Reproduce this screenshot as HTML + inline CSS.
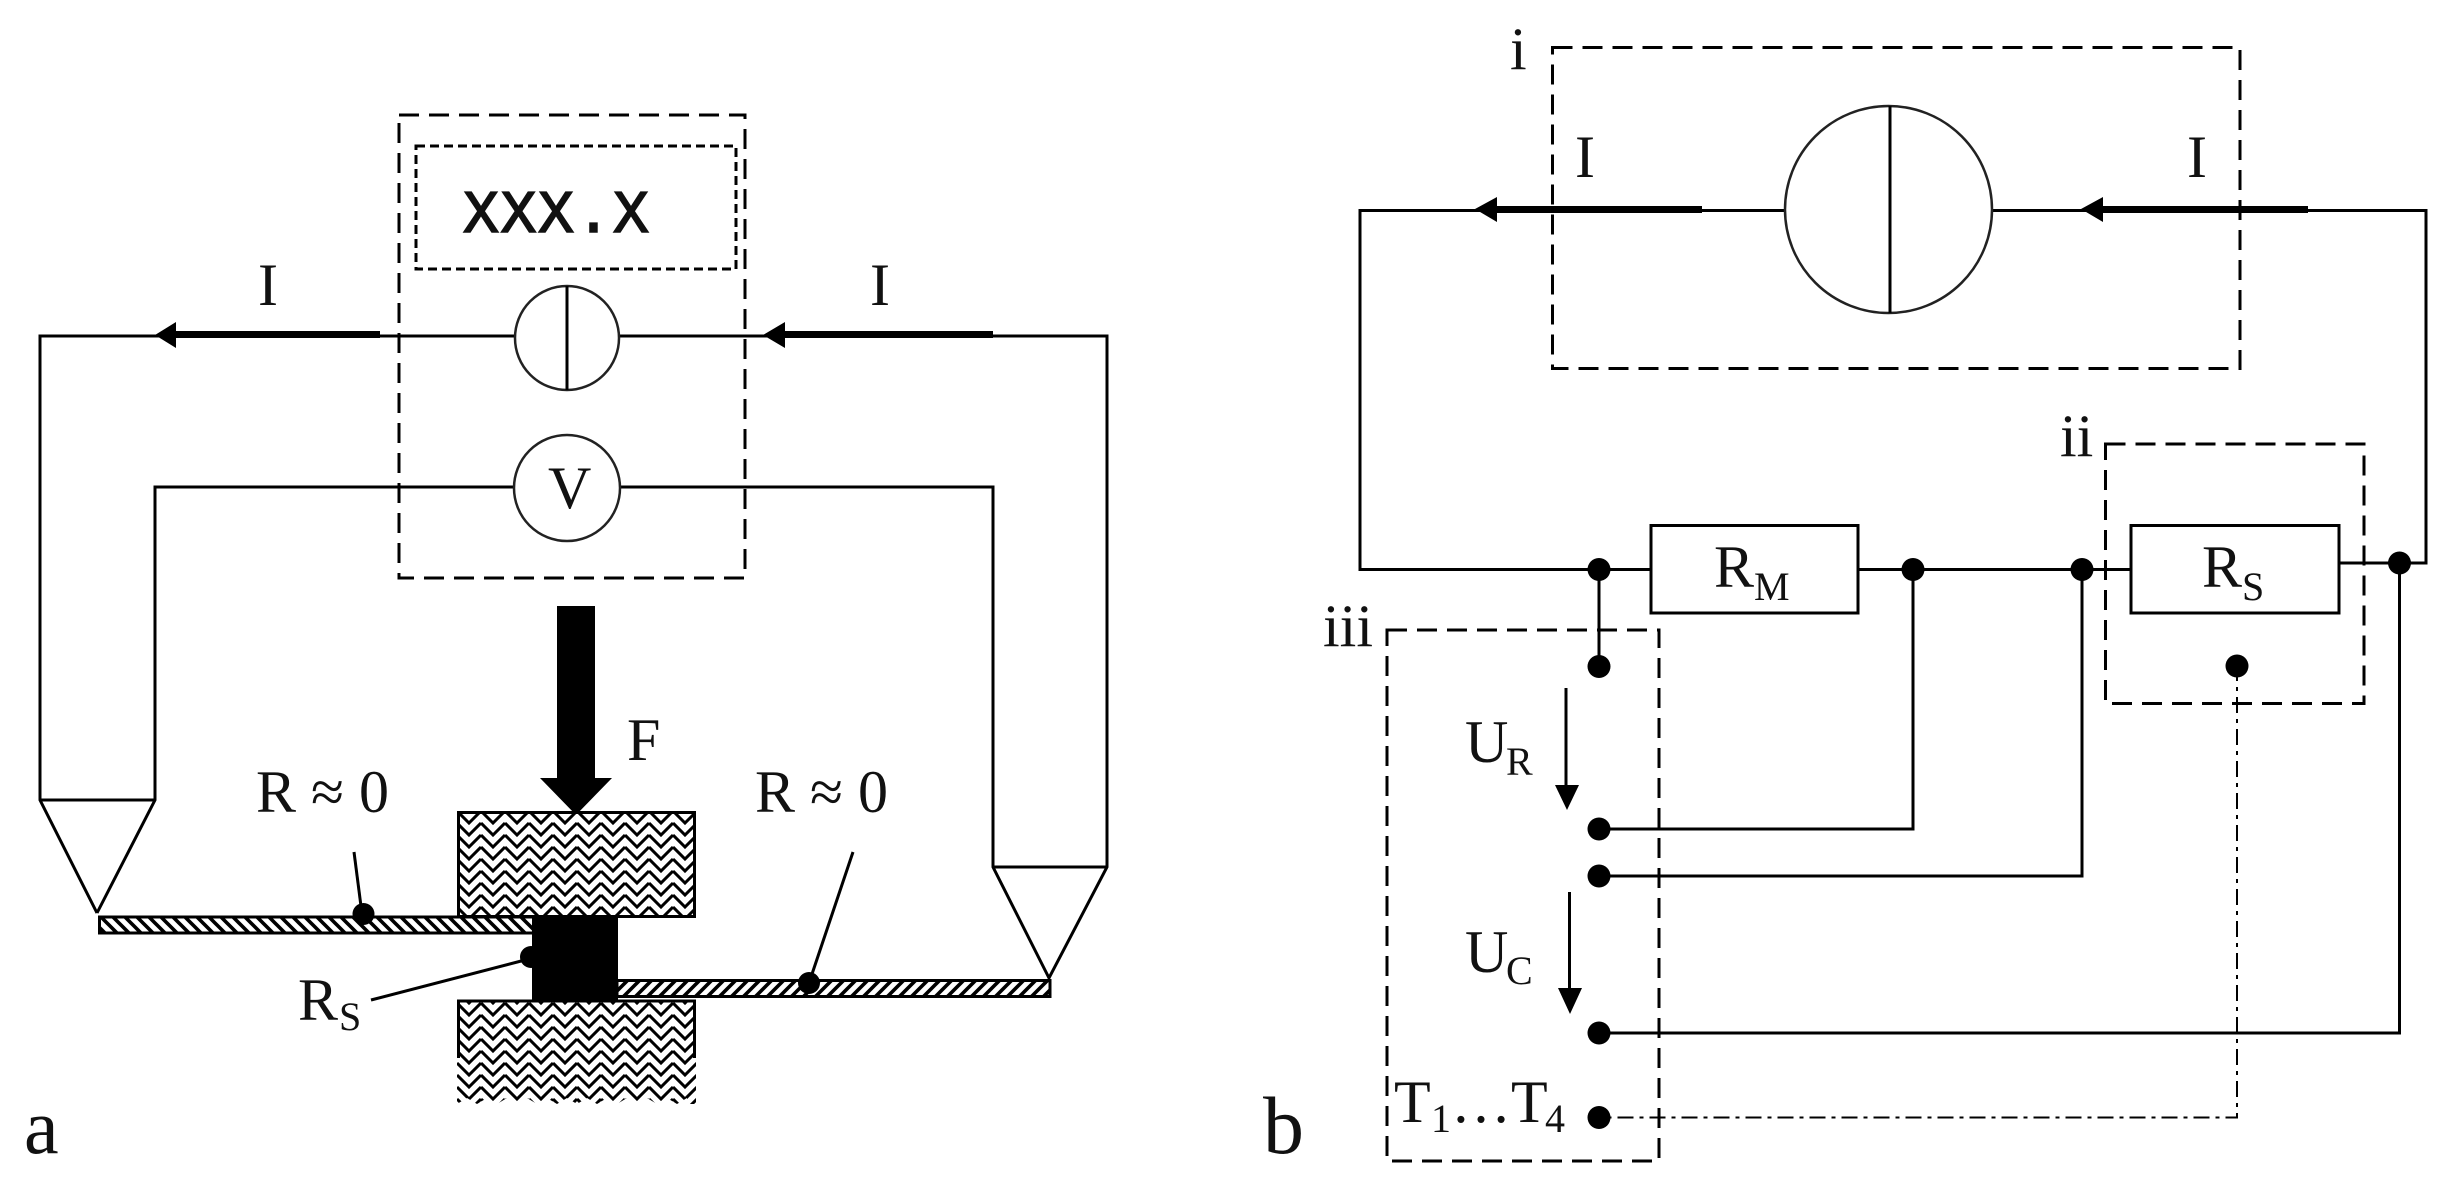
<!DOCTYPE html>
<html>
<head>
<meta charset="utf-8">
<style>
html,body{margin:0;padding:0;background:#fff;width:2454px;height:1189px;overflow:hidden}
svg{display:block}
text{font-family:"Liberation Serif",serif;fill:#111;font-size:60px}
.sub{font-size:40px}
.w{fill:none;stroke:#000;stroke-width:3}
.d{fill:none;stroke:#000;stroke-width:3;stroke-dasharray:20 10}
.dot{fill:#000}
</style>
</head>
<body>
<svg width="2454" height="1189" viewBox="0 0 2454 1189" xmlns="http://www.w3.org/2000/svg">
<defs>
<pattern id="hb" width="24" height="12" patternUnits="userSpaceOnUse" x="457" y="811">
<rect width="24" height="12" fill="#fff"/>
<path d="M0 0L12 12L24 0M0 12L12 24L24 12M0 -12L12 0L24 -12" fill="none" stroke="#000" stroke-width="3"/>
</pattern>
<pattern id="hl" width="12" height="12" patternUnits="userSpaceOnUse">
<rect width="12" height="12" fill="#fff"/>
<path d="M-3 -3L15 15M-3 9L3 15M9 -3L15 3" stroke="#000" stroke-width="3.6"/>
</pattern>
<pattern id="hr" width="12" height="12" patternUnits="userSpaceOnUse">
<rect width="12" height="12" fill="#fff"/>
<path d="M-3 15L15 -3M-3 3L3 -3M9 15L15 9" stroke="#000" stroke-width="3.6"/>
</pattern>
</defs>
<rect width="2454" height="1189" fill="#fff"/>

<!-- PANEL A -->
<rect class="d" x="399" y="115" width="346" height="463"/>
<rect x="416" y="146" width="320" height="123" fill="none" stroke="#000" stroke-width="3" stroke-dasharray="9 5"/>
<text x="463" y="232" style="font-family:'Liberation Mono',monospace;font-size:60px;letter-spacing:1.5px;stroke:#111;stroke-width:1.6px">XXX.X</text>

<path class="w" d="M97 913L40 800V336H515M619 336H1107V867L1049 978L993 867V487H620M515 487H155V800L97 913M40 800H155M993 867H1107"/>
<circle cx="567" cy="338" r="52" fill="#fff" stroke="#222" stroke-width="2.5"/>
<path class="w" stroke-width="2" d="M567 286V390"/>
<circle cx="567" cy="488" r="53" fill="#fff" stroke="#222" stroke-width="2.5"/>
<text x="548" y="508">V</text>

<path d="M155 335L176 322V331H380V338H176V348Z" fill="#000"/>
<path d="M763 335L785 322V331H993V338H785V348Z" fill="#000"/>
<text x="258" y="305">I</text>
<text x="870" y="305">I</text>

<!-- force -->
<path d="M557 606H595V778H612L576 815L540 778H557Z" fill="#000"/>
<text x="627" y="760">F</text>

<!-- blocks -->
<rect x="458.500" y="812.500" width="236" height="104" fill="url(#hb)" stroke="#000" stroke-width="3"/>
<rect x="457" y="1000" width="239" height="104" fill="url(#hb)"/>
<path d="M458.500 1058V1001H694.500V1058" fill="none" stroke="#000" stroke-width="3"/>
<path d="M457 1104l10-6 10 6 10-6 10 6 10-6 10 6 10-6 10 6 10-6 10 6 10-6 10 6 10-6 10 6 10-6 10 6 10-6 10 6 10-6 10 6 10-6 10 6 10-6V1112H457Z" fill="#fff"/>
<rect x="99.500" y="917" width="434" height="16" fill="url(#hl)" stroke="#000" stroke-width="3"/>
<rect x="617" y="980.500" width="433" height="16" fill="url(#hr)" stroke="#000" stroke-width="3"/>
<rect x="532" y="917" width="86" height="83" fill="#000"/>

<!-- dots & leaders -->
<circle class="dot" cx="363.500" cy="914" r="11"/>
<path class="w" stroke-width="2" d="M354 852L362 914"/>
<circle class="dot" cx="809" cy="983" r="11"/>
<path class="w" stroke-width="2" d="M853 852L809 983"/>
<circle class="dot" cx="531" cy="957" r="11"/>
<path class="w" d="M371 1000L525 960"/>

<text x="256" y="812">R ≈ 0</text>
<text x="755" y="812">R ≈ 0</text>
<text x="298" y="1020">R</text><text class="sub" x="339" y="1030">S</text>
<text x="24" y="1153" style="font-size:78px">a</text>

<!-- PANEL B -->
<rect class="d" x="1552.500" y="47.500" width="687.500" height="321"/>
<rect class="d" x="2105.500" y="444" width="258.500" height="259.500"/>
<rect class="d" x="1387" y="630" width="272" height="531"/>

<path class="w" d="M1785 210.500H1360V569.500H1651M1858 569.500H2131M2339 563H2426V210.500H1992"/>
<circle cx="1888.500" cy="209.500" r="103.500" fill="#fff" stroke="#222" stroke-width="2.500"/>
<path class="w" d="M1890 106V313"/>
<path d="M1475 209L1497 197V206H1702V213H1497V222Z" fill="#000"/>
<path d="M2081 209L2103 197V206H2308V213H2103V222Z" fill="#000"/>
<text x="1575" y="177">I</text>
<text x="2187" y="177">I</text>

<rect class="w" x="1651" y="525.500" width="207" height="87.500" fill="#fff"/>
<rect class="w" x="2131" y="525.500" width="208" height="87.500" fill="#fff"/>
<text x="1714" y="587">R</text><text class="sub" x="1754" y="600">M</text>
<text x="2202" y="587">R</text><text class="sub" x="2242" y="600">S</text>

<path class="w" d="M1599 569.500V666.500M1913 569.500V829H1599M2082 569.500V876H1599M2399.500 563V1033H1599"/>
<path fill="none" stroke="#000" stroke-width="2" stroke-dasharray="16 6 4 6" d="M2237 665V1117.500H1599"/>

<g class="dot">
<circle cx="1599" cy="569.500" r="11.500"/>
<circle cx="1913" cy="569.500" r="11.500"/>
<circle cx="2082" cy="569.500" r="11.500"/>
<circle cx="2399.500" cy="563" r="11.500"/>
<circle cx="1599" cy="666.500" r="11.500"/>
<circle cx="2237" cy="666" r="11.500"/>
<circle cx="1599" cy="829" r="11.500"/>
<circle cx="1599" cy="876" r="11.500"/>
<circle cx="1599" cy="1033" r="11.500"/>
<circle cx="1599" cy="1117.500" r="11.500"/>
</g>

<path class="w" stroke-width="2" d="M1566 688V790"/>
<path d="M1555 785H1579L1567 810Z" fill="#000"/>
<path class="w" stroke-width="2" d="M1569.500 892V992"/>
<path d="M1558 988H1582L1570 1014Z" fill="#000"/>

<text x="1465" y="762">U</text><text class="sub" x="1506" y="775">R</text>
<text x="1465" y="972">U</text><text class="sub" x="1506" y="984">C</text>
<text x="1394" y="1122">T</text><text class="sub" x="1431" y="1132">1</text>
<text x="1451" y="1122">…</text>
<text x="1511" y="1122">T</text><text class="sub" x="1545" y="1132">4</text>

<text x="1510" y="69">i</text>
<text x="2060" y="456">ii</text>
<text x="1323" y="646">iii</text>
<text x="1263" y="1153" style="font-size:82px">b</text>
</svg>
</body>
</html>
